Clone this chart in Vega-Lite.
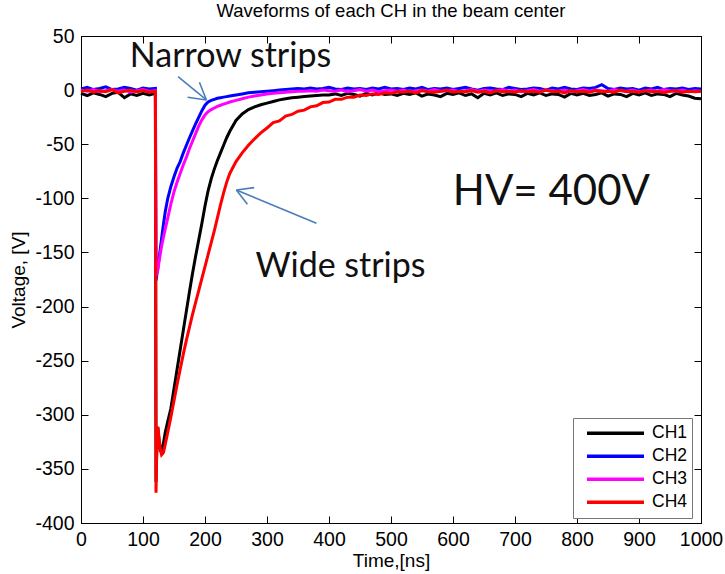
{
  "$schema": "https://vega.github.io/schema/vega-lite/v6.json",
  "width": 620,
  "height": 487,
  "autosize": {"type": "none"},
  "padding": {"left": 81, "top": 36, "right": 24, "bottom": 51},
  "background": "white",
  "config": {
    "view": {"stroke": "#000", "strokeWidth": 1},
    "font": "Liberation Sans",
    "axis": {"grid": false, "domainColor": "#000", "tickColor": "#000", "tickSize": -7, "labelColor": "#000", "labelFont": "Liberation Sans", "labelFontSize": 19.5, "labelFlush": false, "labelOverlap": false, "titleFont": "Liberation Sans", "titleFontSize": 19, "titleFontWeight": "normal", "titleColor": "#000"}
  },
  "title": {"text": "Waveforms of each CH in the beam center", "font": "Liberation Sans", "fontSize": 18.5, "fontWeight": "normal", "color": "#000", "anchor": "middle", "offset": 6},
  "datasets": {
    "wave": [
      {"t":0,"CH1":-3,"CH2":1,"CH3":0,"CH4":-1},
      {"t":10,"CH1":-5,"CH2":2.5,"CH3":-1,"CH4":0},
      {"t":20,"CH1":-2.5,"CH2":0.5,"CH3":0.5,"CH4":-2},
      {"t":30,"CH1":-4,"CH2":1.5,"CH3":-1.5,"CH4":-0.5},
      {"t":40,"CH1":-6,"CH2":3,"CH3":-0.5,"CH4":-1.5},
      {"t":50,"CH1":-3,"CH2":0.5,"CH3":0.5,"CH4":0.5},
      {"t":60,"CH1":-2,"CH2":1,"CH3":-1,"CH4":-2.5},
      {"t":70,"CH1":-7,"CH2":2.5,"CH3":0,"CH4":-1},
      {"t":80,"CH1":-3.5,"CH2":1.5,"CH3":-2,"CH4":0},
      {"t":90,"CH1":-5,"CH2":0,"CH3":-0.5,"CH4":-1.5},
      {"t":100,"CH1":-3,"CH2":2,"CH3":0.5,"CH4":-0.5},
      {"t":110,"CH1":-4.5,"CH2":1,"CH3":-1,"CH4":-2},
      {"t":120,"CH1":-3,"CH2":1.5,"CH3":-0.5,"CH4":-1},
      {"t":121,"CH1":-362,"CH2":-176,"CH3":-172,"CH4":-372},
      {"t":122,"CH1":-335,"CH2":-172,"CH3":-170,"CH4":-340},
      {"t":124,"CH1":-312,"CH2":-164,"CH3":-166,"CH4":-311},
      {"t":126,"CH1":-325,"CH2":-155,"CH3":-158,"CH4":-322},
      {"t":128,"CH1":-333,"CH2":-146,"CH3":-151,"CH4":-332},
      {"t":130,"CH1":-333,"CH2":-137,"CH3":-144,"CH4":-337},
      {"t":133,"CH1":-326,"CH2":-124,"CH3":-136,"CH4":-335},
      {"t":136,"CH1":-316,"CH2":-112,"CH3":-128,"CH4":-327},
      {"t":140,"CH1":-306,"CH2":-100,"CH3":-118,"CH4":-316},
      {"t":145,"CH1":-294,"CH2":-89,"CH3":-105,"CH4":-302},
      {"t":150,"CH1":-276,"CH2":-80,"CH3":-94,"CH4":-287},
      {"t":155,"CH1":-258,"CH2":-72,"CH3":-85,"CH4":-272},
      {"t":160,"CH1":-240,"CH2":-66,"CH3":-77,"CH4":-258},
      {"t":165,"CH1":-222,"CH2":-58,"CH3":-69,"CH4":-244},
      {"t":170,"CH1":-204,"CH2":-51,"CH3":-62,"CH4":-231},
      {"t":175,"CH1":-186,"CH2":-44,"CH3":-54,"CH4":-219},
      {"t":180,"CH1":-169,"CH2":-37.5,"CH3":-47,"CH4":-207},
      {"t":185,"CH1":-153,"CH2":-31,"CH3":-40,"CH4":-196},
      {"t":190,"CH1":-138,"CH2":-25,"CH3":-33,"CH4":-185},
      {"t":195,"CH1":-123,"CH2":-19,"CH3":-27.5,"CH4":-174},
      {"t":200,"CH1":-107,"CH2":-14,"CH3":-23,"CH4":-163},
      {"t":205,"CH1":-93,"CH2":-11,"CH3":-20,"CH4":-152},
      {"t":210,"CH1":-82,"CH2":-9.5,"CH3":-18,"CH4":-141},
      {"t":215,"CH1":-73,"CH2":-8.5,"CH3":-16.5,"CH4":-130},
      {"t":220,"CH1":-65,"CH2":-7.5,"CH3":-15,"CH4":-118},
      {"t":225,"CH1":-58,"CH2":-7,"CH3":-14,"CH4":-106},
      {"t":230,"CH1":-51,"CH2":-6.5,"CH3":-13,"CH4":-95},
      {"t":235,"CH1":-44,"CH2":-6,"CH3":-12,"CH4":-85},
      {"t":240,"CH1":-38,"CH2":-5.5,"CH3":-11,"CH4":-77},
      {"t":250,"CH1":-28,"CH2":-4.5,"CH3":-9.5,"CH4":-66},
      {"t":260,"CH1":-22,"CH2":-3.5,"CH3":-8,"CH4":-58},
      {"t":270,"CH1":-18,"CH2":-2.5,"CH3":-6.5,"CH4":-51},
      {"t":280,"CH1":-15.5,"CH2":-2,"CH3":-5.5,"CH4":-45},
      {"t":290,"CH1":-13.5,"CH2":-1.5,"CH3":-4.5,"CH4":-39.5},
      {"t":300,"CH1":-12,"CH2":-1,"CH3":-3.5,"CH4":-35},
      {"t":310,"CH1":-10.5,"CH2":-0.5,"CH3":-3,"CH4":-30},
      {"t":320,"CH1":-9,"CH2":0,"CH3":-2.5,"CH4":-28.5},
      {"t":330,"CH1":-8,"CH2":0.5,"CH3":-2,"CH4":-24},
      {"t":340,"CH1":-7,"CH2":1,"CH3":-1.5,"CH4":-22.5},
      {"t":350,"CH1":-6.5,"CH2":1.5,"CH3":-1,"CH4":-19.5},
      {"t":360,"CH1":-6,"CH2":1,"CH3":-1,"CH4":-18.5},
      {"t":370,"CH1":-5.5,"CH2":2,"CH3":-0.5,"CH4":-15.5},
      {"t":380,"CH1":-5,"CH2":1,"CH3":-1,"CH4":-14.5},
      {"t":390,"CH1":-4.5,"CH2":1.5,"CH3":0,"CH4":-11.5},
      {"t":400,"CH1":-4.5,"CH2":2.5,"CH3":-0.5,"CH4":-11},
      {"t":410,"CH1":-3.5,"CH2":1,"CH3":-1,"CH4":-8.5},
      {"t":420,"CH1":-5,"CH2":0.5,"CH3":0,"CH4":-8.5},
      {"t":430,"CH1":-3,"CH2":2,"CH3":-1.5,"CH4":-6.5},
      {"t":440,"CH1":-4,"CH2":1,"CH3":-0.5,"CH4":-6.5},
      {"t":450,"CH1":-5.5,"CH2":1.5,"CH3":0.5,"CH4":-4.5},
      {"t":460,"CH1":-3,"CH2":0.5,"CH3":-1,"CH4":-5},
      {"t":470,"CH1":-4.5,"CH2":2,"CH3":0,"CH4":-3.5},
      {"t":480,"CH1":-2.5,"CH2":1,"CH3":-1.5,"CH4":-4},
      {"t":490,"CH1":-4,"CH2":2.5,"CH3":-0.5,"CH4":-2.5},
      {"t":500,"CH1":-3.5,"CH2":1,"CH3":0,"CH4":-3},
      {"t":510,"CH1":-5,"CH2":1.5,"CH3":-1,"CH4":-1.5},
      {"t":520,"CH1":-3,"CH2":0.5,"CH3":0,"CH4":-2},
      {"t":530,"CH1":-4,"CH2":2,"CH3":-1.5,"CH4":-1},
      {"t":540,"CH1":-2.5,"CH2":1,"CH3":-0.5,"CH4":-2.5},
      {"t":550,"CH1":-5.5,"CH2":2.5,"CH3":0,"CH4":-0.5},
      {"t":560,"CH1":-3.5,"CH2":0.5,"CH3":-1,"CH4":-1.5},
      {"t":570,"CH1":-4.5,"CH2":1.5,"CH3":0.5,"CH4":-2},
      {"t":580,"CH1":-6,"CH2":1,"CH3":-1,"CH4":-1},
      {"t":590,"CH1":-3,"CH2":2,"CH3":-0.5,"CH4":0},
      {"t":600,"CH1":-4,"CH2":0.5,"CH3":0,"CH4":-2},
      {"t":610,"CH1":-2.5,"CH2":1.5,"CH3":-1.5,"CH4":-1},
      {"t":620,"CH1":-5,"CH2":2.5,"CH3":-0.5,"CH4":-1.5},
      {"t":630,"CH1":-3.5,"CH2":1,"CH3":0.5,"CH4":-0.5},
      {"t":640,"CH1":-7,"CH2":0,"CH3":-1,"CH4":-2},
      {"t":650,"CH1":-3,"CH2":1.5,"CH3":0,"CH4":-1},
      {"t":660,"CH1":-4.5,"CH2":2,"CH3":-1,"CH4":-2.5},
      {"t":670,"CH1":-2.5,"CH2":1,"CH3":-0.5,"CH4":-0.5},
      {"t":680,"CH1":-5,"CH2":0.5,"CH3":0.5,"CH4":-1.5},
      {"t":690,"CH1":-3.5,"CH2":2.5,"CH3":-1,"CH4":-1},
      {"t":700,"CH1":-4,"CH2":1.5,"CH3":0,"CH4":-2},
      {"t":710,"CH1":-6,"CH2":0.5,"CH3":-1.5,"CH4":-0.5},
      {"t":720,"CH1":-3,"CH2":1,"CH3":-0.5,"CH4":-1.5},
      {"t":730,"CH1":-4.5,"CH2":2,"CH3":0.5,"CH4":-1},
      {"t":740,"CH1":-2.5,"CH2":1.5,"CH3":-1,"CH4":-2},
      {"t":750,"CH1":-5,"CH2":0,"CH3":0,"CH4":0},
      {"t":760,"CH1":-3.5,"CH2":2,"CH3":-0.5,"CH4":-1.5},
      {"t":770,"CH1":-4,"CH2":1,"CH3":-1,"CH4":-1},
      {"t":780,"CH1":-6.5,"CH2":2.5,"CH3":0,"CH4":-2.5},
      {"t":790,"CH1":-3,"CH2":1,"CH3":-1.5,"CH4":-0.5},
      {"t":800,"CH1":-4.5,"CH2":0.5,"CH3":-0.5,"CH4":-1.5},
      {"t":810,"CH1":-3,"CH2":2,"CH3":0.5,"CH4":-1},
      {"t":820,"CH1":-5,"CH2":1.5,"CH3":-1,"CH4":-2},
      {"t":830,"CH1":-4,"CH2":2.5,"CH3":0,"CH4":-0.5},
      {"t":840,"CH1":-2.5,"CH2":5,"CH3":-0.5,"CH4":-1.5},
      {"t":850,"CH1":-5.5,"CH2":1.5,"CH3":-1,"CH4":-1},
      {"t":860,"CH1":-3.5,"CH2":0.5,"CH3":0.5,"CH4":-2},
      {"t":870,"CH1":-4,"CH2":2,"CH3":-0.5,"CH4":0},
      {"t":880,"CH1":-6,"CH2":1,"CH3":-1,"CH4":-1.5},
      {"t":890,"CH1":-3,"CH2":1.5,"CH3":0,"CH4":-1},
      {"t":900,"CH1":-4.5,"CH2":0,"CH3":-1.5,"CH4":-2},
      {"t":910,"CH1":-2.5,"CH2":2,"CH3":-0.5,"CH4":-0.5},
      {"t":920,"CH1":-5,"CH2":1,"CH3":0,"CH4":-1.5},
      {"t":930,"CH1":-3.5,"CH2":2.5,"CH3":-1,"CH4":-1},
      {"t":940,"CH1":-4,"CH2":0.5,"CH3":0.5,"CH4":-2.5},
      {"t":950,"CH1":-6,"CH2":1.5,"CH3":-0.5,"CH4":-1},
      {"t":960,"CH1":-3,"CH2":1,"CH3":-1,"CH4":-0.5},
      {"t":970,"CH1":-4.5,"CH2":2,"CH3":0,"CH4":-2},
      {"t":980,"CH1":-5.5,"CH2":0.5,"CH3":-1.5,"CH4":-1},
      {"t":990,"CH1":-7.5,"CH2":1.5,"CH3":-0.5,"CH4":-1.5},
      {"t":1000,"CH1":-8,"CH2":1,"CH3":-1,"CH4":-1}
    ],
    "arrows": [
      {"x":156.5,"y":12.4,"x2":202.3,"y2":-9.1},
      {"x":171.9,"y":-6.6,"x2":202.3,"y2":-9.1},
      {"x":191,"y":7.2,"x2":202.3,"y2":-9.1},
      {"x":379.7,"y":-123.1,"x2":250.6,"y2":-92.3},
      {"x":279.4,"y":-90.1,"x2":250.6,"y2":-92.3},
      {"x":268.4,"y":-105.5,"x2":250.6,"y2":-92.3}
    ],
    "strips": [
      {"t":241.1,"v":21.6,"label":"Narrow strips"},
      {"t":418.5,"v":-172.5,"label":"Wide strips"}
    ],
    "hv": [
      {"t":758.7,"v":-106.2,"label":"HV= 400V"}
    ]
  },
  "layer": [
    {
      "data": {"name": "wave"},
      "transform": [{"fold": ["CH1","CH2","CH3","CH4"], "as": ["Channel","v"]}],
      "mark": {"type": "line", "strokeWidth": 3, "interpolate": "linear"},
      "encoding": {
        "x": {"field": "t", "type": "quantitative", "scale": {"domain": [0,1000], "nice": false, "zero": false},
              "axis": {"orient": "bottom", "values": [0,100,200,300,400,500,600,700,800,900,1000], "title": "Time,[ns]", "labelPadding": 14, "titlePadding": 3,
                       "labelExpr": "'' + datum.value"}},
        "y": {"field": "v", "type": "quantitative", "scale": {"domain": [-400,50], "nice": false, "zero": false},
              "axis": {"orient": "left", "values": [-400,-350,-300,-250,-200,-150,-100,-50,0,50], "title": "Voltage, [V]", "labelPadding": 14, "titlePadding": 6,
                       "labelExpr": "datum.value < 0 ? '-' + abs(datum.value) : '' + datum.value"}},
        "color": {"field": "Channel", "type": "nominal",
                  "scale": {"domain": ["CH1","CH2","CH3","CH4"], "range": ["#000000","#0000ff","#ff00ff","#ff0000"]},
                  "legend": {"title": null, "orient": "none", "legendX": 492, "legendY": 382, "symbolType": "stroke", "symbolSize": 3249, "symbolStrokeWidth": 3.5,
                             "labelFont": "Liberation Sans", "labelFontSize": 17.5, "labelColor": "#000", "strokeColor": "#777", "fillColor": "white",
                             "padding": 4, "symbolOffset": 8, "labelOffset": 6, "clipHeight": 22.5, "rowPadding": 0}}
      }
    },
    {
      "data": {"name": "arrows"},
      "mark": {"type": "rule", "color": "#4a7ebb", "strokeWidth": 1.6},
      "encoding": {
        "x": {"field": "x", "type": "quantitative", "scale": {"domain": [0,1000], "nice": false, "zero": false},
              "axis": {"orient": "top", "values": [0,100,200,300,400,500,600,700,800,900,1000], "labels": false, "title": null}},
        "y": {"field": "y", "type": "quantitative", "scale": {"domain": [-400,50], "nice": false, "zero": false},
              "axis": {"orient": "right", "values": [-400,-350,-300,-250,-200,-150,-100,-50,0,50], "labels": false, "title": null}},
        "x2": {"field": "x2"},
        "y2": {"field": "y2"}
      }
    },
    {
      "data": {"name": "strips"},
      "mark": {"type": "text", "font": "Lato", "fontSize": 34, "color": "#111", "align": "center", "baseline": "alphabetic"},
      "encoding": {
        "x": {"field": "t", "type": "quantitative", "axis": null},
        "y": {"field": "v", "type": "quantitative", "axis": null},
        "text": {"field": "label"}
      }
    },
    {
      "data": {"name": "hv"},
      "mark": {"type": "text", "font": "Lato", "fontSize": 42, "color": "#111", "align": "center", "baseline": "alphabetic"},
      "encoding": {
        "x": {"field": "t", "type": "quantitative", "axis": null},
        "y": {"field": "v", "type": "quantitative", "axis": null},
        "text": {"field": "label"}
      }
    }
  ],
  "resolve": {"axis": {"x": "independent", "y": "independent"}}
}
